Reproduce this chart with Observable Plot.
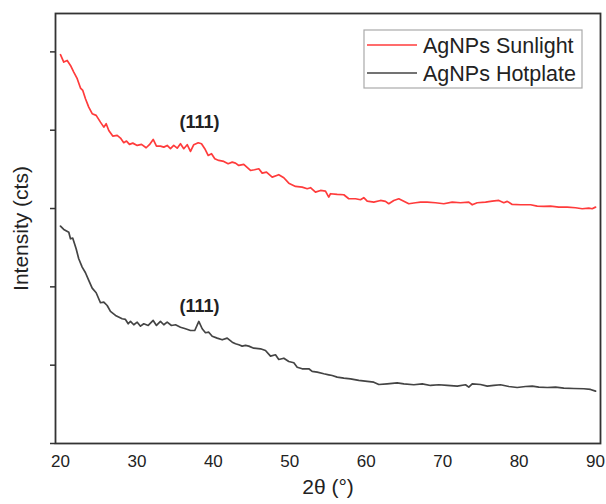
<!DOCTYPE html>
<html>
<head>
<meta charset="utf-8">
<script src="https://cdn.jsdelivr.net/npm/d3@7"></script>
<script src="https://cdn.jsdelivr.net/npm/@observablehq/plot@0.6"></script>
<style>
  html, body { margin: 0; padding: 0; background: #fff; }
  #chart { width: 606px; height: 504px; }
</style>
</head>
<body>
<div id="chart"></div>
<script>
const seriesNames = ["AgNPs Sunlight", "AgNPs Hotplate"];
const seriesColors = ["#ff3b3b", "#444444"];
const xTicks = [20, 30, 40, 50, 60, 70, 80, 90];
const yTicks = [0, 1000, 2000, 3000, 4000, 5000];
const peakLabel = "(111)";

const sunlightTheta = [20.00, 20.43, 20.88, 21.31, 21.74, 22.19, 22.62, 22.92, 23.27, 23.70, 24.15, 24.67, 25.23, 25.67, 25.98, 26.32, 26.84, 27.42, 27.85, 28.28, 28.64, 29.03, 29.46, 30.04, 30.60, 31.21, 31.64, 32.13, 32.56, 33.08, 33.52, 33.96, 34.39, 34.82, 35.27, 35.70, 36.13, 36.58, 37.01, 37.44, 38.02, 38.45, 38.88, 39.32, 39.76, 40.19, 40.71, 41.37, 41.94, 42.47, 42.90, 43.33, 43.98, 44.86, 45.38, 45.95, 46.39, 46.95, 47.70, 48.56, 49.22, 49.87, 50.75, 51.62, 52.28, 52.71, 53.36, 54.02, 54.67, 55.10, 55.33, 56.20, 57.07, 57.72, 58.60, 59.25, 59.68, 60.13, 60.99, 61.87, 62.52, 62.95, 63.61, 64.26, 64.92, 65.57, 66.45, 67.10, 67.98, 69.06, 70.15, 71.25, 72.34, 73.42, 73.87, 74.52, 75.61, 76.48, 77.35, 78.00, 78.45, 79.10, 80.19, 81.50, 82.37, 83.24, 84.11, 85.20, 86.29, 87.38, 88.26, 89.12, 89.56, 90.00];
const sunlightIntensity = [4964, 4870, 4891, 4827, 4742, 4658, 4538, 4508, 4402, 4295, 4211, 4189, 4103, 4039, 4083, 3997, 3925, 3933, 3899, 3840, 3861, 3819, 3835, 3806, 3819, 3776, 3815, 3882, 3797, 3797, 3784, 3806, 3764, 3806, 3771, 3827, 3764, 3815, 3729, 3815, 3840, 3827, 3764, 3678, 3700, 3636, 3614, 3601, 3572, 3592, 3580, 3550, 3563, 3486, 3495, 3508, 3452, 3465, 3401, 3432, 3393, 3324, 3282, 3273, 3253, 3266, 3209, 3231, 3222, 3146, 3189, 3180, 3176, 3125, 3125, 3112, 3138, 3094, 3082, 3103, 3091, 3061, 3103, 3125, 3094, 3061, 3074, 3082, 3082, 3074, 3061, 3082, 3074, 3082, 3048, 3074, 3082, 3094, 3103, 3074, 3091, 3052, 3048, 3048, 3031, 3027, 3031, 3018, 3018, 3010, 2997, 3005, 2997, 3018];

const hotplateTheta = [20.00, 20.43, 21.09, 21.31, 21.61, 22.05, 22.39, 22.84, 23.27, 23.70, 24.15, 24.67, 25.23, 25.67, 26.11, 26.54, 27.20, 28.07, 28.50, 28.86, 29.16, 29.59, 30.04, 30.47, 30.90, 31.48, 32.13, 32.56, 33.08, 33.52, 33.96, 34.52, 35.05, 35.70, 36.35, 37.01, 37.57, 38.10, 38.54, 38.97, 39.40, 39.85, 40.50, 41.16, 41.81, 42.47, 42.90, 43.33, 43.77, 44.21, 44.64, 45.29, 46.17, 46.82, 47.48, 48.13, 48.56, 49.22, 49.87, 50.53, 50.97, 51.62, 52.49, 52.93, 53.59, 54.45, 55.10, 55.55, 56.20, 57.07, 57.94, 59.03, 60.13, 60.99, 61.65, 62.74, 64.05, 64.92, 66.23, 67.33, 68.41, 69.50, 70.60, 71.91, 72.99, 73.42, 73.87, 74.95, 75.83, 76.69, 77.57, 78.66, 79.75, 80.84, 81.72, 82.58, 83.68, 84.77, 85.85, 87.16, 88.47, 89.34, 90.00];
const hotplateIntensity = [2775, 2733, 2698, 2614, 2622, 2486, 2359, 2252, 2180, 2082, 1983, 1925, 1797, 1805, 1762, 1686, 1635, 1593, 1584, 1529, 1558, 1516, 1549, 1498, 1529, 1507, 1571, 1507, 1558, 1516, 1549, 1507, 1516, 1485, 1465, 1443, 1443, 1558, 1465, 1414, 1421, 1370, 1345, 1324, 1345, 1294, 1273, 1260, 1243, 1252, 1243, 1217, 1209, 1188, 1115, 1133, 1073, 1089, 1047, 1031, 974, 954, 954, 920, 911, 890, 877, 868, 847, 834, 826, 805, 792, 783, 753, 762, 775, 762, 750, 762, 741, 750, 741, 732, 750, 719, 762, 753, 732, 741, 750, 728, 715, 728, 732, 719, 715, 719, 706, 702, 699, 690, 668];

const peaks = [
  {theta: 38.2, intensity: 4100, label: peakLabel},
  {theta: 38.2, intensity: 1750, label: peakLabel}
];

const data = [
  ...sunlightTheta.map((t, i) => ({theta: t, intensity: sunlightIntensity[i], series: seriesNames[0]})),
  ...hotplateTheta.map((t, i) => ({theta: t, intensity: hotplateIntensity[i], series: seriesNames[1]}))
];

const font = "'Liberation Sans', Arial, sans-serif";

const chart = Plot.plot({
  width: 606,
  height: 504,
  marginLeft: 55,
  marginRight: 6,
  marginTop: 13,
  marginBottom: 61,
  style: {fontFamily: font, color: "#222", background: "#fff"},
  x: {domain: [19.35, 90.65], axis: null},
  y: {domain: [0, 5490], axis: null},
  color: {domain: seriesNames, range: seriesColors},
  marks: [
    Plot.axisY({ticks: yTicks, tickSize: 5, tickFormat: () => "", label: null, stroke: "#333", strokeWidth: 1.5}),
    Plot.axisX({ticks: xTicks, tickSize: 0, tickPadding: 11, fontSize: 17, label: null, fill: "#222"}),
    Plot.line(data, {x: "theta", y: "intensity", z: "series", stroke: "series", strokeWidth: 1.7}),
    Plot.text(peaks, {x: "theta", y: "intensity", text: "label", fontSize: 18, fontWeight: "bold", fill: "#222"}),
    Plot.text(["Intensity (cts)"], {frameAnchor: "left", textAnchor: "middle", lineAnchor: "middle", dx: -34, rotate: -90, fontSize: 21, fill: "#222"}),
    Plot.text(["2θ (°)"], {frameAnchor: "bottom", textAnchor: "middle", lineAnchor: "middle", dy: 44, fontSize: 21, fill: "#222"}),
    Plot.frame({stroke: "#333", strokeWidth: 1.8})
  ]
});

document.getElementById("chart").appendChild(chart);

// Legend (layout only)
const svg = d3.select(chart);
const lg = svg.append("g").attr("font-family", font).attr("text-anchor", "start");
lg.append("rect").attr("x", 364).attr("y", 30).attr("width", 218).attr("height", 58)
  .attr("fill", "#fff").attr("stroke", "#aaa").attr("stroke-width", 1.2);
seriesNames.forEach((name, i) => {
  const cy = 45 + i * 28;
  lg.append("line").attr("x1", 367).attr("x2", 417).attr("y1", cy).attr("y2", cy)
    .attr("stroke", seriesColors[i]).attr("stroke-width", 1.6);
  lg.append("text").attr("x", 423).attr("y", cy).attr("dy", "0.35em")
    .attr("font-size", 21.5).attr("fill", "#222").text(name);
});
</script>
</body>
</html>
